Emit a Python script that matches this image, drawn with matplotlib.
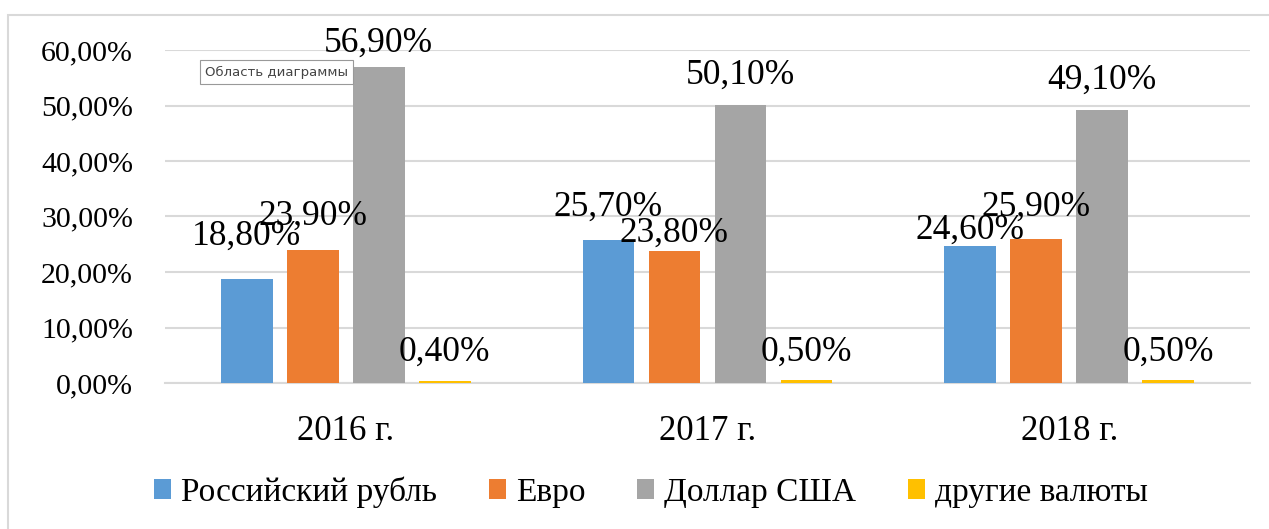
import matplotlib
matplotlib.use("Agg")
import matplotlib.pyplot as plt
import numpy as np
from matplotlib.patches import Rectangle

plt.rcParams['font.family'] = ['Liberation Serif', 'DejaVu Serif']

years = ["2016 г.", "2017 г.", "2018 г."]
series = ["Российский рубль", "Евро", "Доллар США", "другие валюты"]
rub = [18.8, 25.7, 24.6]
eur = [23.9, 23.8, 25.9]
usd = [56.9, 50.1, 49.1]
other = [0.4, 0.5, 0.5]
colors = ["#5B9BD5", "#ED7D31", "#A5A5A5", "#FFC000"]

# label lift above each bar (px), per series, per year - labels were nudged by hand in the original
lifts = [[42, 33, 16], [34, 18, 32], [24, 30, 30], [29, 28, 28]]

W, H = 1269, 529
fig = plt.figure(figsize=(W / 100, H / 100), dpi=100)
ax = fig.add_axes([165 / W, 1 - 383 / H, (1250 - 165) / W, (383 - 50) / H])

# chart area border (cut off on right/bottom in the screenshot)
fig.patches.append(Rectangle((8 / W, -0.1), 1.2, 1 - 15 / H + 0.1, transform=fig.transFigure,
                             fill=False, edgecolor="#D9D9D9", lw=1.5))

x = np.arange(len(years))
step = 0.1825
width = 0.1437
data = [rub, eur, usd, other]
for i, (vals, name, c) in enumerate(zip(data, series, colors)):
    pos = x + (i - 1.5) * step
    ax.bar(pos, np.array(vals) / 100, width, color=c, label=name, zorder=3)
    for p, v, lift in zip(pos, vals, lifts[i]):
        ax.annotate(f"{v:.2f}".replace(".", ",") + "%", (p, v / 100),
                    xytext=(0, lift * 0.72), textcoords="offset points",
                    ha="center", va="center", fontsize=25.5, zorder=4)

ax.set_xlim(-0.5, 2.5)
ax.set_ylim(0, 0.6)
yt = np.arange(0, 0.61, 0.1)
ax.set_yticks(yt)
ax.set_yticklabels([f"{v * 100:.2f}".replace(".", ",") + "%" for v in yt], fontsize=21.5)
ax.set_xticks(x)
ax.set_xticklabels(years, fontsize=25)
ax.tick_params(length=0)
ax.tick_params(axis="y", pad=23)
ax.tick_params(axis="x", pad=23)
ax.grid(axis="y", color="#D9D9D9", lw=1.5, zorder=0)
for s in ["top", "right", "left"]:
    ax.spines[s].set_visible(False)
ax.spines["bottom"].set_color("#D9D9D9")
ax.spines["bottom"].set_linewidth(1.5)

fig.legend(loc="center", bbox_to_anchor=(651 / W, 1 - 492 / H), ncol=4, frameon=False,
           fontsize=24, handlelength=0.52, handleheight=0.52, handletextpad=0.3,
           columnspacing=1.55)

# tooltip from the screenshot
fig.text(205 / W, 1 - 72 / H, "Область диаграммы", fontsize=9.5, family="DejaVu Sans",
         color="#444444", va="center", ha="left",
         bbox=dict(boxstyle="square,pad=0.4", fc="white", ec="#999999", lw=0.8))

fig.savefig("out.png", dpi=100)
